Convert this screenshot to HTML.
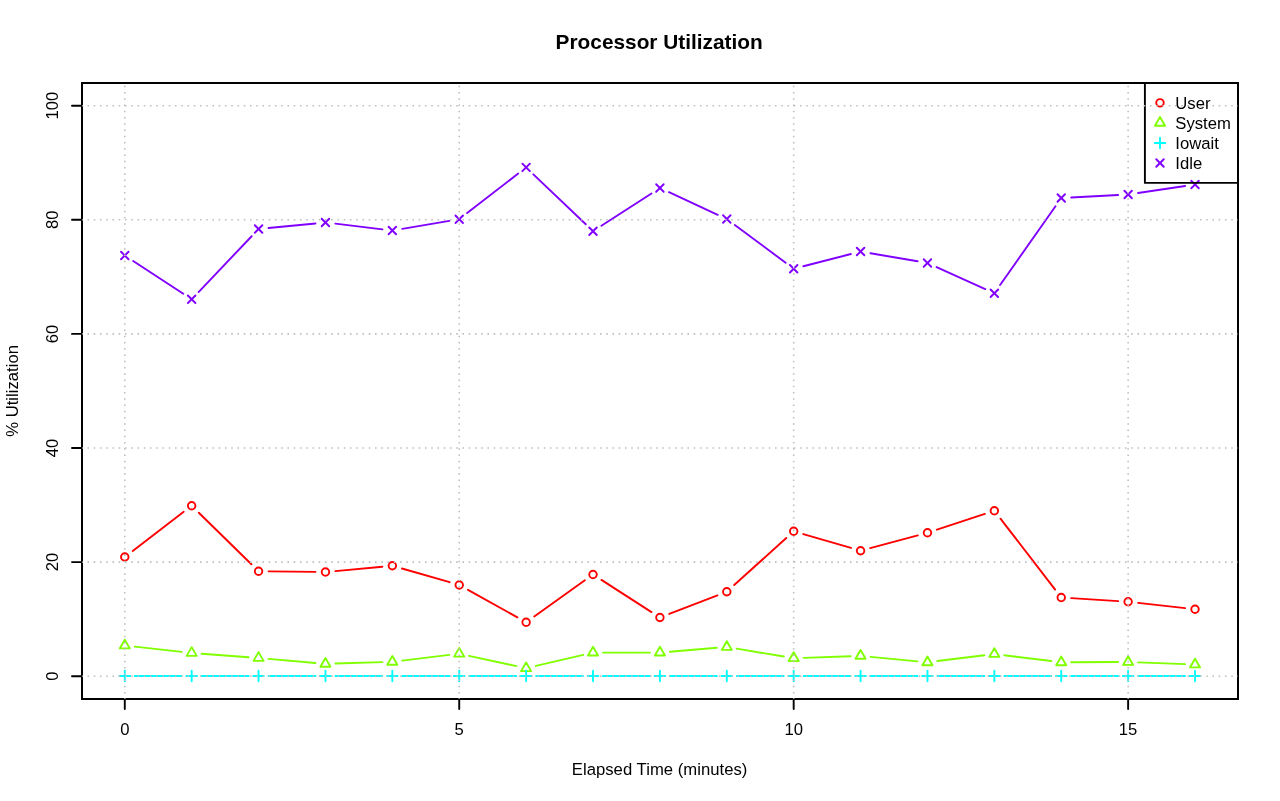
<!DOCTYPE html>
<html><head><meta charset="utf-8"><title>Processor Utilization</title>
<style>
html,body{margin:0;padding:0;background:#fff;}
body{width:1280px;height:801px;overflow:hidden;}
svg{display:block;will-change:transform;}
text{font-family:"Liberation Sans",Arial,Helvetica,sans-serif;fill:#000;}
</style></head><body>

<svg width="1280" height="801" viewBox="0 0 1280 801">
<rect width="1280" height="801" fill="#fff"/>
<g fill="none" stroke-width="1.9" stroke-linecap="round" stroke-linejoin="round">
<rect x="82" y="83" width="1156" height="616" fill="none" stroke="#000" stroke-width="2" stroke-linejoin="miter"/>
<path d="M124.78 699V709M459.23 699V709M793.68 699V709M1128.13 699V709M82 676.2H72M82 562.1H72M82 448H72M82 333.9H72M82 219.8H72M82 105.7H72" stroke="#000"/>
<path d="M132.72 550.94L183.73 511.82M198.82 512.73L251.41 564.23M268.56 571.35L315.45 571.91M335.41 571.09L382.38 566.69M401.95 568.51L449.62 582.21M467.97 589.84L517.38 617.37M534.26 616.42L584.87 580.29M601.42 579.89L651.49 612.09M669.23 613.91L717.46 595.36M734.2 585.06L786.27 537.95M803.28 534.04L850.97 547.95M870.23 548.15L917.8 535.37M936.96 529.65L984.85 513.88M1000.46 518.67L1055.13 589.55M1071.22 598.11L1118.15 601.11M1138.07 602.86L1185.08 608.11" stroke="#FF0000"/><circle cx="124.78" cy="557.02" r="3.75" fill="none" stroke="#FF0000"/><circle cx="191.67" cy="505.73" r="3.75" fill="none" stroke="#FF0000"/><circle cx="258.56" cy="571.23" r="3.75" fill="none" stroke="#FF0000"/><circle cx="325.45" cy="572.03" r="3.75" fill="none" stroke="#FF0000"/><circle cx="392.34" cy="565.75" r="3.75" fill="none" stroke="#FF0000"/><circle cx="459.23" cy="584.98" r="3.75" fill="none" stroke="#FF0000"/><circle cx="526.12" cy="622.23" r="3.75" fill="none" stroke="#FF0000"/><circle cx="593.01" cy="574.48" r="3.75" fill="none" stroke="#FF0000"/><circle cx="659.9" cy="617.5" r="3.75" fill="none" stroke="#FF0000"/><circle cx="726.79" cy="591.77" r="3.75" fill="none" stroke="#FF0000"/><circle cx="793.68" cy="531.24" r="3.75" fill="none" stroke="#FF0000"/><circle cx="860.57" cy="550.75" r="3.75" fill="none" stroke="#FF0000"/><circle cx="927.46" cy="532.78" r="3.75" fill="none" stroke="#FF0000"/><circle cx="994.35" cy="510.76" r="3.75" fill="none" stroke="#FF0000"/><circle cx="1061.24" cy="597.47" r="3.75" fill="none" stroke="#FF0000"/><circle cx="1128.13" cy="601.75" r="3.75" fill="none" stroke="#FF0000"/><circle cx="1195.02" cy="609.22" r="3.75" fill="none" stroke="#FF0000"/>
<path d="M134.72 646.62L181.73 651.87M201.64 653.72L248.59 657.2M268.52 658.83L315.49 662.99M335.45 663.57L382.34 662.13M402.27 660.62L449.3 654.92M469 655.84L516.35 666.1M535.86 665.94L583.27 654.86M603.01 652.58L649.9 652.58M669.87 651.75L716.82 647.82M736.65 648.64L783.82 656.52M803.67 657.83L850.58 656.23M870.52 656.84L917.51 661.33M937.38 661.05L984.43 655.23M1004.27 655.23L1051.32 661.05M1071.24 662.24L1118.13 662.04M1138.12 662.37L1185.03 664.13" stroke="#80FF00"/><path d="M124.78 639.68L129.83 648.42L119.73 648.42Z" fill="none" stroke="#80FF00"/><path d="M191.67 647.15L196.72 655.9L186.62 655.9Z" fill="none" stroke="#80FF00"/><path d="M258.56 652.11L263.61 660.86L253.51 660.86Z" fill="none" stroke="#80FF00"/><path d="M325.45 658.05L330.5 666.79L320.4 666.79Z" fill="none" stroke="#80FF00"/><path d="M392.34 655.99L397.39 664.74L387.29 664.74Z" fill="none" stroke="#80FF00"/><path d="M459.23 647.89L464.28 656.64L454.18 656.64Z" fill="none" stroke="#80FF00"/><path d="M526.12 662.38L531.17 671.13L521.07 671.13Z" fill="none" stroke="#80FF00"/><path d="M593.01 646.75L598.06 655.5L587.96 655.5Z" fill="none" stroke="#80FF00"/><path d="M659.9 646.75L664.95 655.5L654.85 655.5Z" fill="none" stroke="#80FF00"/><path d="M726.79 641.16L731.84 649.91L721.74 649.91Z" fill="none" stroke="#80FF00"/><path d="M793.68 652.34L798.73 661.09L788.63 661.09Z" fill="none" stroke="#80FF00"/><path d="M860.57 650.06L865.62 658.81L855.52 658.81Z" fill="none" stroke="#80FF00"/><path d="M927.46 656.45L932.51 665.2L922.41 665.2Z" fill="none" stroke="#80FF00"/><path d="M994.35 648.18L999.4 656.92L989.3 656.92Z" fill="none" stroke="#80FF00"/><path d="M1061.24 656.45L1066.29 665.2L1056.19 665.2Z" fill="none" stroke="#80FF00"/><path d="M1128.13 656.16L1133.18 664.91L1123.08 664.91Z" fill="none" stroke="#80FF00"/><path d="M1195.02 658.67L1200.07 667.42L1189.97 667.42Z" fill="none" stroke="#80FF00"/>
<path d="M134.78 676L181.67 676M201.67 676L248.56 676M268.56 676L315.45 676M335.45 676L382.34 676M402.34 676L449.23 676M469.23 676L516.12 676M536.12 676L583.01 676M603.01 676L649.9 676M669.9 676L716.79 676M736.79 676L783.68 676M803.68 676L850.57 676M870.57 676L917.46 676M937.46 676L984.35 676M1004.35 676L1051.24 676M1071.24 676L1118.13 676M1138.13 676L1185.02 676" stroke="#00FFFF"/><path d="M119.48 676H130.08" stroke="#00FFFF"/><path d="M124.78 670.7V681.3" stroke="#00FFFF"/><path d="M186.37 676H196.97" stroke="#00FFFF"/><path d="M191.67 670.7V681.3" stroke="#00FFFF"/><path d="M253.26 676H263.86" stroke="#00FFFF"/><path d="M258.56 670.7V681.3" stroke="#00FFFF"/><path d="M320.15 676H330.75" stroke="#00FFFF"/><path d="M325.45 670.7V681.3" stroke="#00FFFF"/><path d="M387.04 676H397.64" stroke="#00FFFF"/><path d="M392.34 670.7V681.3" stroke="#00FFFF"/><path d="M453.93 676H464.53" stroke="#00FFFF"/><path d="M459.23 670.7V681.3" stroke="#00FFFF"/><path d="M520.82 676H531.42" stroke="#00FFFF"/><path d="M526.12 670.7V681.3" stroke="#00FFFF"/><path d="M587.71 676H598.31" stroke="#00FFFF"/><path d="M593.01 670.7V681.3" stroke="#00FFFF"/><path d="M654.6 676H665.2" stroke="#00FFFF"/><path d="M659.9 670.7V681.3" stroke="#00FFFF"/><path d="M721.49 676H732.09" stroke="#00FFFF"/><path d="M726.79 670.7V681.3" stroke="#00FFFF"/><path d="M788.38 676H798.98" stroke="#00FFFF"/><path d="M793.68 670.7V681.3" stroke="#00FFFF"/><path d="M855.27 676H865.87" stroke="#00FFFF"/><path d="M860.57 670.7V681.3" stroke="#00FFFF"/><path d="M922.16 676H932.76" stroke="#00FFFF"/><path d="M927.46 670.7V681.3" stroke="#00FFFF"/><path d="M989.05 676H999.65" stroke="#00FFFF"/><path d="M994.35 670.7V681.3" stroke="#00FFFF"/><path d="M1055.94 676H1066.54" stroke="#00FFFF"/><path d="M1061.24 670.7V681.3" stroke="#00FFFF"/><path d="M1122.83 676H1133.43" stroke="#00FFFF"/><path d="M1128.13 670.7V681.3" stroke="#00FFFF"/><path d="M1189.72 676H1200.32" stroke="#00FFFF"/><path d="M1195.02 670.7V681.3" stroke="#00FFFF"/>
<path d="M133.15 260.99L183.3 293.8M198.56 292.03L251.67 236.23M268.51 228.02L315.5 223.45M335.38 223.68L382.41 229.33M402.2 228.86L449.37 220.89M467.14 213.11L518.21 173.55M533.36 174.33L585.77 224.31M601.41 225.79L651.5 193.45M668.97 192.23L717.72 214.8M734.81 224.97L785.66 262.78M803.36 266.25L850.89 254.01M870.43 253.21L917.6 261.3M936.57 267.11L985.24 289.1M1000.1 285.04L1055.49 206.19M1071.23 197.49L1118.14 195.05M1138.02 193.04L1185.13 185.97" stroke="#8000FF"/><path d="M121.03 251.76L128.53 259.26" stroke="#8000FF"/><path d="M121.03 259.26L128.53 251.76" stroke="#8000FF"/><path d="M187.92 295.52L195.42 303.02" stroke="#8000FF"/><path d="M187.92 303.02L195.42 295.52" stroke="#8000FF"/><path d="M254.81 225.24L262.31 232.74" stroke="#8000FF"/><path d="M254.81 232.74L262.31 225.24" stroke="#8000FF"/><path d="M321.7 218.73L329.2 226.23" stroke="#8000FF"/><path d="M321.7 226.23L329.2 218.73" stroke="#8000FF"/><path d="M388.59 226.78L396.09 234.28" stroke="#8000FF"/><path d="M388.59 234.28L396.09 226.78" stroke="#8000FF"/><path d="M455.48 215.48L462.98 222.98" stroke="#8000FF"/><path d="M455.48 222.98L462.98 215.48" stroke="#8000FF"/><path d="M522.37 163.68L529.87 171.18" stroke="#8000FF"/><path d="M522.37 171.18L529.87 163.68" stroke="#8000FF"/><path d="M589.26 227.46L596.76 234.96" stroke="#8000FF"/><path d="M589.26 234.96L596.76 227.46" stroke="#8000FF"/><path d="M656.15 184.27L663.65 191.77" stroke="#8000FF"/><path d="M656.15 191.77L663.65 184.27" stroke="#8000FF"/><path d="M723.04 215.25L730.54 222.75" stroke="#8000FF"/><path d="M723.04 222.75L730.54 215.25" stroke="#8000FF"/><path d="M789.93 265L797.43 272.5" stroke="#8000FF"/><path d="M789.93 272.5L797.43 265" stroke="#8000FF"/><path d="M856.82 247.77L864.32 255.27" stroke="#8000FF"/><path d="M856.82 255.27L864.32 247.77" stroke="#8000FF"/><path d="M923.71 259.24L931.21 266.74" stroke="#8000FF"/><path d="M923.71 266.74L931.21 259.24" stroke="#8000FF"/><path d="M990.6 289.47L998.1 296.97" stroke="#8000FF"/><path d="M990.6 296.97L998.1 289.47" stroke="#8000FF"/><path d="M1057.49 194.26L1064.99 201.76" stroke="#8000FF"/><path d="M1057.49 201.76L1064.99 194.26" stroke="#8000FF"/><path d="M1124.38 190.78L1131.88 198.28" stroke="#8000FF"/><path d="M1124.38 198.28L1131.88 190.78" stroke="#8000FF"/><path d="M1191.27 180.74L1198.77 188.24" stroke="#8000FF"/><path d="M1191.27 188.24L1198.77 180.74" stroke="#8000FF"/>
<rect x="1144.9" y="82.9" width="93.1" height="100" fill="none" stroke="#000"/>
<circle cx="1160" cy="102.85" r="3.75" fill="none" stroke="#FF0000"/>
<path d="M1160 117.07L1165.05 125.82L1154.95 125.82Z" fill="none" stroke="#80FF00"/>
<path d="M1154.7 142.95H1165.3" stroke="#00FFFF"/><path d="M1160 137.65V148.25" stroke="#00FFFF"/>
<path d="M1156.25 159.25L1163.75 166.75" stroke="#8000FF"/><path d="M1156.25 166.75L1163.75 159.25" stroke="#8000FF"/>
<path d="M124.78 699V82.9M459.23 699V82.9M793.68 699V82.9M1128.13 699V82.9M82 676.2H1237.9M82 562.1H1237.9M82 448H1237.9M82 333.9H1237.9M82 219.8H1237.9M82 105.7H1237.9" stroke="#BEBEBE" stroke-width="1.56" stroke-linecap="butt" stroke-dasharray="1.56 4.69" stroke-dashoffset="0.78"/>
</g>
<text x="659.2" y="48.6" font-size="20.83" font-weight="bold" text-anchor="middle">Processor Utilization</text>
<text x="124.78" y="734.9" font-size="16.67" text-anchor="middle">0</text>
<text x="459.23" y="734.9" font-size="16.67" text-anchor="middle">5</text>
<text x="793.68" y="734.9" font-size="16.67" text-anchor="middle">10</text>
<text x="1128.13" y="734.9" font-size="16.67" text-anchor="middle">15</text>
<text transform="translate(58,676.2) rotate(-90)" font-size="16.67" text-anchor="middle">0</text>
<text transform="translate(58,562.1) rotate(-90)" font-size="16.67" text-anchor="middle">20</text>
<text transform="translate(58,448) rotate(-90)" font-size="16.67" text-anchor="middle">40</text>
<text transform="translate(58,333.9) rotate(-90)" font-size="16.67" text-anchor="middle">60</text>
<text transform="translate(58,219.8) rotate(-90)" font-size="16.67" text-anchor="middle">80</text>
<text transform="translate(58,105.7) rotate(-90)" font-size="16.67" text-anchor="middle">100</text>
<text x="659.6" y="775" font-size="16.67" text-anchor="middle" textLength="175.6" lengthAdjust="spacing">Elapsed Time (minutes)</text>
<text transform="translate(18.0,390.9) rotate(-90)" font-size="16.67" text-anchor="middle">% Utilization</text>
<text x="1175.3" y="108.8" font-size="16.67">User</text>
<text x="1175.3" y="128.85" font-size="16.67">System</text>
<text x="1175.3" y="148.9" font-size="16.67">Iowait</text>
<text x="1175.3" y="168.95" font-size="16.67">Idle</text>
</svg>
</body></html>
